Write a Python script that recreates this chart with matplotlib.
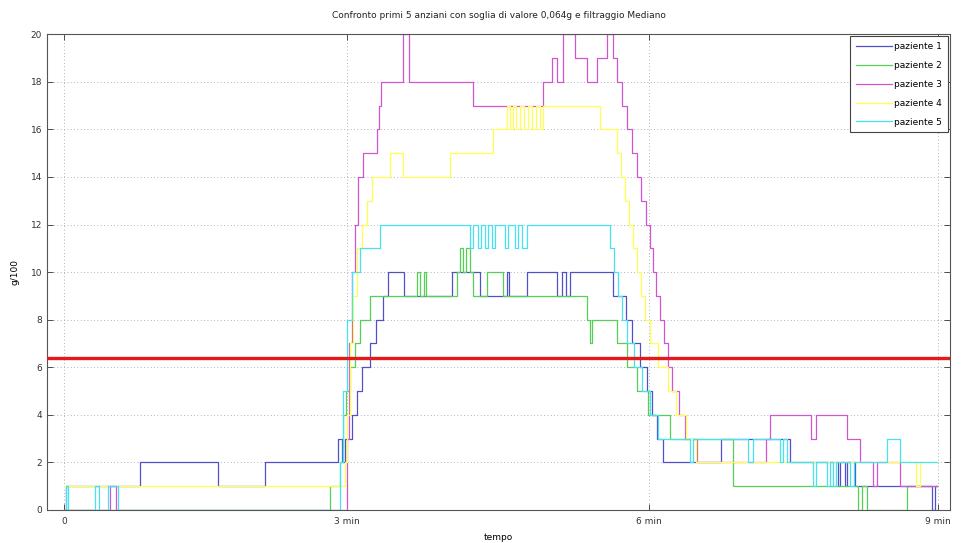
import numpy as np
import matplotlib
matplotlib.use("Agg")
import matplotlib.pyplot as plt

# Sample index (x) and acceleration level in g/100 (y) at each change point
p1_t = [0, 2, 76, 154, 201, 274, 278, 281, 288, 293, 298, 306, 312, 319, 324, 340, 388, 416,
        443, 445, 463, 493, 498, 502, 506, 549, 562, 568, 576, 583, 588, 593, 599, 657, 726,
        774, 776, 781, 783, 791, 868, 871, 873]
p1_v = [0, 1, 2, 1, 2, 3, 2, 3, 4, 5, 6, 7, 8, 9, 10, 9, 10, 9,
        10, 9, 10, 9, 10, 9, 10, 9, 8, 7, 6, 5, 4, 3, 2, 3, 2,
        1, 2, 1, 2, 1, 0, 1, 1]

p2_t = [0, 266, 276, 279, 282, 286, 291, 296, 306, 353, 356, 360, 362, 393, 396, 399, 402, 406,
        409, 423, 439, 523, 526, 528, 553, 563, 573, 584, 606, 669, 794, 798, 803, 843, 873]
p2_v = [0, 1, 2, 4, 5, 6, 7, 8, 9, 10, 9, 10, 9, 10, 11, 10, 11, 10,
        9, 10, 9, 8, 7, 8, 7, 6, 5, 4, 3, 1, 0, 1, 0, 1, 1]

p3_t = [0, 46, 52, 283, 285, 288, 291, 294, 299, 313, 315, 317, 339, 345, 409, 479, 488, 493,
        499, 511, 523, 533, 543, 549, 553, 558, 563, 568, 573, 577, 582, 586, 589, 592, 596,
        600, 604, 608, 615, 621, 633, 702, 706, 747, 752, 783, 796, 809, 813, 836, 873]
p3_v = [0, 1, 0, 3, 7, 10, 12, 14, 15, 16, 17, 18, 20, 18, 17, 18, 19, 18,
        20, 19, 18, 19, 20, 19, 18, 17, 16, 15, 14, 13, 12, 11, 10, 9, 8,
        7, 6, 5, 4, 3, 2, 3, 4, 3, 4, 3, 2, 1, 2, 1, 1]

p4_t = [0, 281, 283, 286, 289, 293, 298, 303, 308, 326, 339, 386, 429, 443, 446, 449, 452, 456,
        460, 464, 468, 472, 476, 479, 536, 553, 557, 561, 565, 569, 573, 577, 581, 586, 594,
        604, 612, 622, 632, 852, 856, 873]
p4_v = [1, 2, 4, 7, 9, 11, 12, 13, 14, 15, 14, 15, 16, 17, 16, 17, 16, 17,
        16, 17, 16, 17, 16, 17, 16, 15, 14, 13, 12, 11, 10, 9, 8, 7, 6,
        5, 4, 3, 2, 1, 2, 2]

p5_t = [0, 2, 4, 31, 35, 44, 54, 276, 279, 283, 288, 296, 316, 406, 409, 414, 417, 421, 424,
        428, 431, 441, 444, 451, 454, 458, 463, 546, 550, 554, 558, 563, 570, 578, 586, 594,
        626, 629, 684, 689, 716, 719, 723, 749, 752, 763, 766, 769, 772, 786, 790, 823, 836, 873]
p5_v = [0, 1, 0, 1, 0, 1, 0, 2, 5, 8, 10, 11, 12, 11, 12, 11, 12, 11, 12,
        11, 12, 11, 12, 11, 12, 11, 12, 11, 10, 9, 8, 7, 6, 5, 4, 3,
        2, 3, 2, 3, 2, 3, 2, 1, 2, 1, 2, 1, 2, 1, 2, 3, 2, 2]

series_labels = ["paziente 1", "paziente 2", "paziente 3", "paziente 4", "paziente 5"]
series_colors = ["#5050c8", "#55d055", "#d055d0", "#ffff50", "#45e2f0"]

soglia = 6.4  # 0,064 g expressed in g/100

x_tick_pos = [0, 283, 585, 874]
x_tick_labels = ["0", "3 min", "6 min", "9 min"]
y_ticks = list(range(0, 21, 2))

fig = plt.figure(figsize=(9.66, 5.43), dpi=100)
ax = fig.add_axes([0.0487, 0.0608, 0.9347, 0.8762])

data = [(p1_t, p1_v), (p2_t, p2_v), (p3_t, p3_v), (p4_t, p4_v), (p5_t, p5_v)]
for (t, v), lab, col in zip(data, series_labels, series_colors):
    ax.plot(t, v, drawstyle="steps-post", color=col, lw=0.9, label=lab)

ax.axhline(soglia, color="#e41a1a", lw=2.4, zorder=5)

ax.set_xlim(-17, 886)
ax.set_ylim(0, 20)
ax.set_xticks(x_tick_pos)
ax.set_xticklabels(x_tick_labels)
ax.set_yticks(y_ticks)
ax.tick_params(direction="in", labelsize=6.5, length=4, width=0.6, colors="#333333",
               top=True, right=True, labeltop=False, labelright=False)
ax.tick_params(axis="x", pad=5)
ax.grid(True, linestyle=(0, (1, 3)), color="#9a9a9a", lw=0.6)
for sp in ax.spines.values():
    sp.set_color("#555555")
    sp.set_linewidth(0.8)

ax.set_title("Confronto primi 5 anziani con soglia di valore 0,064g e filtraggio Mediano",
             fontsize=6.5, color="#222222", pad=12)
ax.set_xlabel("tempo", fontsize=6.5, labelpad=5)
ax.set_ylabel("g/100", fontsize=6.5, labelpad=8)

leg = ax.legend(loc="upper right", fontsize=6.5, handlelength=4.0, handletextpad=0.3,
                labelspacing=1.1, borderaxespad=0.25, fancybox=False, framealpha=1,
                edgecolor="#444444", borderpad=0.6)
leg.get_frame().set_linewidth(0.8)

fig.savefig("out.png", dpi=100)
